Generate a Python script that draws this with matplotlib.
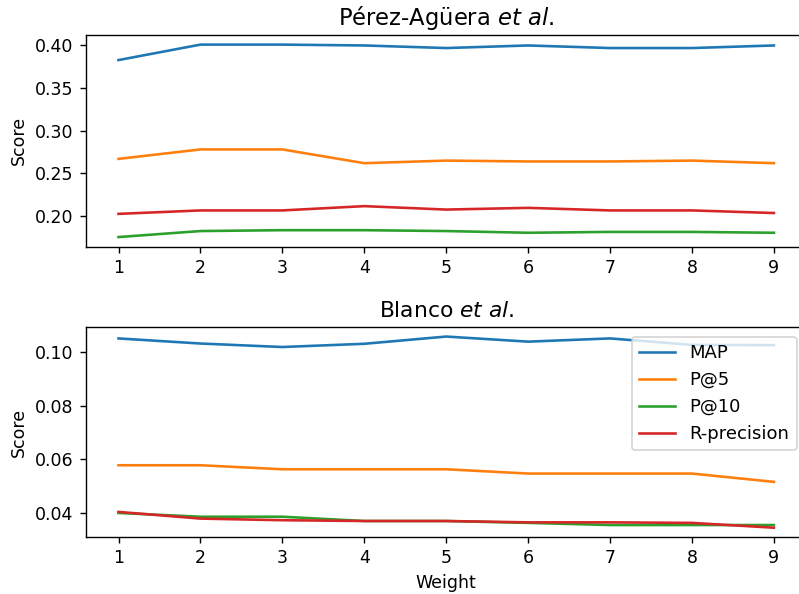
import matplotlib
matplotlib.use('Agg')
import matplotlib.pyplot as plt

weights = [1, 2, 3, 4, 5, 6, 7, 8, 9]
labels = ['MAP', 'P@5', 'P@10', 'R-precision']

# Pérez-Agüera et al.
perez_map = [0.382, 0.400, 0.400, 0.399, 0.396, 0.399, 0.396, 0.396, 0.399]
perez_p5 = [0.267, 0.278, 0.278, 0.262, 0.265, 0.264, 0.264, 0.265, 0.262]
perez_p10 = [0.176, 0.183, 0.184, 0.184, 0.183, 0.181, 0.182, 0.182, 0.181]
perez_rprec = [0.203, 0.207, 0.207, 0.212, 0.208, 0.210, 0.207, 0.207, 0.204]

# Blanco et al.
blanco_map = [0.1051, 0.1032, 0.1019, 0.1031, 0.1058, 0.1039, 0.1051, 0.1027, 0.1026]
blanco_p5 = [0.0578, 0.0578, 0.0563, 0.0563, 0.0563, 0.0547, 0.0547, 0.0547, 0.0516]
blanco_p10 = [0.0400, 0.0386, 0.0386, 0.0370, 0.0370, 0.0363, 0.0355, 0.0355, 0.0355]
blanco_rprec = [0.0404, 0.0379, 0.0373, 0.0370, 0.0370, 0.0365, 0.0365, 0.0363, 0.0345]

DPI = 125
fig = plt.figure(figsize=(799 / DPI, 594 / DPI), dpi=DPI)
# right edge of the axes runs slightly past the image, as in the original crop
ax1 = fig.add_axes([0.1073, 0.5847, 0.9023, 0.3564])
ax2 = fig.add_axes([0.1073, 0.0955, 0.9023, 0.354])

for vals, lab in zip([perez_map, perez_p5, perez_p10, perez_rprec], labels):
    ax1.plot(weights, vals, label=lab)
ax1.set_title(r'Pérez-Agüera $\it{et\ al.}$', fontsize=13, x=0.5)
ax1.set_ylabel('Score')
ax1.set_xticks(weights)

for vals, lab in zip([blanco_map, blanco_p5, blanco_p10, blanco_rprec], labels):
    ax2.plot(weights, vals, label=lab)
ax2.set_title(r'Blanco $\it{et\ al.}$', fontsize=12.5)
ax2.set_ylabel('Score')
ax2.set_xlabel('Weight')
ax2.set_xticks(weights)
ax2.legend(loc='upper right', fontsize=10.4, borderaxespad=0.55)

fig.savefig('out.png', dpi=DPI)
